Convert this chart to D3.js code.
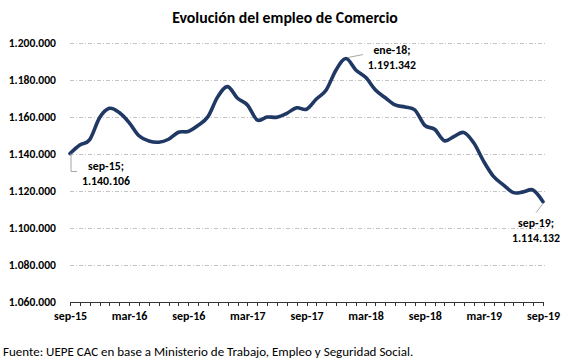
<!DOCTYPE html>
<html>
<head>
<meta charset="utf-8">
<title>Evolución del empleo de Comercio</title>
<style type="text/css">
body{ margin: 0; background: #fff; }
text{ font-family: Carlito, Lato, "Open Sans", sans-serif; fill: #000; }
.axis path, .axis line{ stroke: #333; shape-rendering: crispEdges; }
.grid line{ stroke: #c4c4c4; stroke-dasharray: 4,2,1,2; }
</style>
<script src="https://cdn.jsdelivr.net/npm/d3@7"></script>
</head>
<body>
<script>
// monthly values, sep-15 .. sep-19
var empleo = [
  1140106, 1144700, 1147600, 1159400, 1164500, 1162200, 1156800, 1149700, 1146900, 1146200,
  1147800, 1151600, 1152000, 1155300, 1160000, 1170800, 1176200, 1169900, 1166300, 1158200,
  1159800, 1159700, 1161800, 1164800, 1164000, 1169500, 1174400, 1185200, 1191342, 1185200,
  1181200, 1174400, 1170200, 1166300, 1165200, 1163600, 1155300, 1153200, 1147000, 1149400,
  1151400, 1145600, 1135700, 1127600, 1123100, 1119000, 1119400, 1120400, 1114132
];
var xLabels = ["sep-15", "mar-16", "sep-16", "mar-17", "sep-17", "mar-18", "sep-18", "mar-19", "sep-19"];
var yTicks = [1060000, 1080000, 1100000, 1120000, 1140000, 1160000, 1180000, 1200000];
var notes = [
  {i: 0, mes: "sep-15"},
  {i: 28, mes: "ene-18"},
  {i: 48, mes: "sep-19"}
];

const width = 568, height = 361;
const mLeft = 70, mRight = 543, mTop = 42.5, mBottom = 302;

const es = d3.formatLocale({decimal: ",", thousands: ".", grouping: [3], currency: ["$", ""]});
const fmt = es.format(",.0f");

const svg = d3.select("body").append("svg").attr("width", width).attr("height", height);

const x = d3.scaleLinear().domain([0, empleo.length - 1]).range([mLeft, mRight]);
const y = d3.scaleLinear().domain([yTicks[0], yTicks[yTicks.length - 1]]).range([mBottom, mTop]);

svg.append("text")
   .attr("x", 285).attr("y", 23)
   .attr("text-anchor", "middle")
   .style("font-size", "15.8px").style("font-weight", "bold")
   .text("Evolución del empleo de Comercio");

// gridlines
svg.append("g").attr("class", "grid")
   .selectAll("line").data(yTicks.slice(1)).enter().append("line")
   .attr("x1", mLeft).attr("x2", mRight + 4)
   .attr("y1", d => Math.round(y(d)) + 0.5).attr("y2", d => Math.round(y(d)) + 0.5);

// y axis
const yAxis = d3.axisLeft(y).tickValues(yTicks).tickFormat(fmt).tickSize(0).tickPadding(14);
svg.append("g").attr("transform", `translate(${mLeft}, 0)`).call(yAxis)
   .call(g => g.select(".domain").remove())
   .selectAll("text").style("font-size", "11.6px").style("font-weight", "bold");

// x axis
const xAxis = d3.axisBottom(x).tickValues(d3.range(empleo.length)).tickSize(4).tickPadding(5)
   .tickFormat(i => i % 6 === 0 ? xLabels[i / 6] : "");
const xg = svg.append("g").attr("class", "axis").attr("transform", `translate(0, ${mBottom})`).call(xAxis);
xg.select(".domain").attr("d", `M${mLeft},0.5H${mRight}`);
xg.selectAll("text").style("font-size", "12px").style("font-weight", "bold");

// line
const line = d3.line().x((d, i) => x(i)).y(d => y(d)).curve(d3.curveCatmullRom.alpha(0));
svg.append("path").datum(empleo)
   .attr("d", line)
   .attr("fill", "none").attr("stroke", "#203864").attr("stroke-width", 3.6)
   .attr("stroke-linejoin", "round").attr("stroke-linecap", "round");

// labels with leader lines
const pos = [
  {dx: 36, dy: 16, lead: (px, py) => `M${px + 1},${py}V${py + 18}H${px + 7}`},
  {dx: 46, dy: -5, lead: (px, py) => `M${px + 2},${py - 1}L${px + 17},${py - 4}`},
  {dx: -7, dy: 25, lead: (px, py) => `M${px},${py + 2}L${px - 7},${py + 11}`}
];
notes.forEach((n, k) => {
  const px = x(n.i), py = y(empleo[n.i]), p = pos[k];
  svg.append("path").attr("d", p.lead(px, py))
     .attr("fill", "none").attr("stroke", "#a6a6a6").attr("stroke-width", 1);
  const t = svg.append("text").attr("text-anchor", "middle")
     .style("font-size", "11.8px").style("font-weight", "bold");
  t.append("tspan").attr("x", px + p.dx).attr("y", py + p.dy).text(n.mes + ";");
  t.append("tspan").attr("x", px + p.dx).attr("y", py + p.dy + 15).text(fmt(empleo[n.i]));
});

svg.append("text")
   .attr("x", 3).attr("y", 356)
   .style("font-size", "13px")
   .text("Fuente: UEPE CAC en base a Ministerio de Trabajo, Empleo y Seguridad Social.");
</script>
</body>
</html>
